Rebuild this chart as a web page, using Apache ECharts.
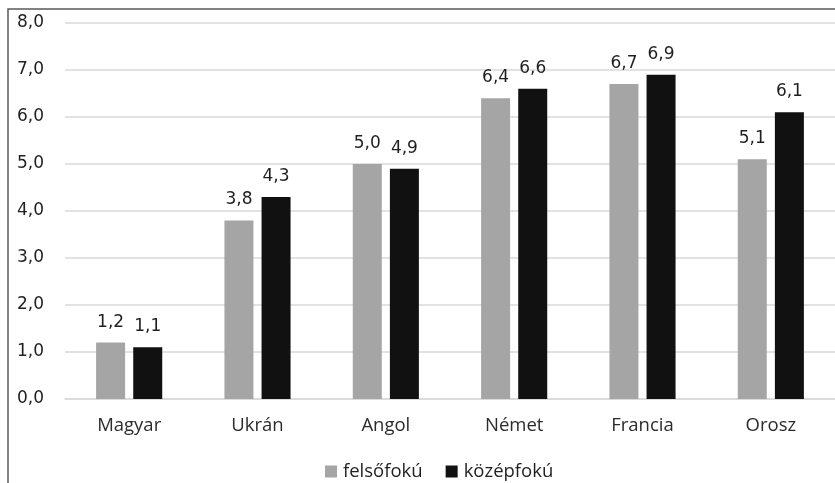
<!DOCTYPE html>
<html>
<head>
<meta charset="utf-8">
<script src="https://cdn.jsdelivr.net/npm/echarts@6/dist/echarts.min.js"></script>
<style>
  html, body { margin: 0; padding: 0; background: #fff; }
  #chart { width: 835px; height: 483px; }
</style>
</head>
<body>
<div id="chart"></div>
<script>
// Languages and the two education-level series
const categories = ['Magyar', 'Ukrán', 'Angol', 'Német', 'Francia', 'Orosz'];
const seriesNames = ['felsőfokú', 'középfokú'];
const felsofoku = [1.2, 3.8, 5.0, 6.4, 6.7, 5.1];
const kozepfoku = [1.1, 4.3, 4.9, 6.6, 6.9, 6.1];
const yTicks = { min: 0, max: 8, interval: 1 };

const fmt = v => Number(v).toFixed(1).replace('.', ',');
const numFont = 'DejaVu Sans';
const textFont = 'Open Sans';

const chart = echarts.init(document.getElementById('chart'), null, { renderer: 'canvas' });

const barLabel = {
  show: true,
  position: 'top',
  distance: 12,
  fontFamily: numFont,
  fontSize: 17,
  color: '#1f1f1f',
  formatter: p => fmt(p.value)
};

chart.setOption({
  animation: false,
  backgroundColor: '#ffffff',
  graphic: [{
    type: 'rect',
    silent: true,
    shape: { x: 8, y: 9, width: 1000, height: 1000 },
    style: { fill: 'none', stroke: '#595959', lineWidth: 1.5 }
  }],
  grid: { left: 65, top: 23, width: 775, bottom: 84, containLabel: false },
  legend: {
    data: seriesNames,
    left: 320,
    top: 457,
    itemWidth: 12,
    itemHeight: 12,
    itemGap: 23,
    icon: 'rect',
    textStyle: { fontFamily: textFont, fontSize: 18.5, color: '#1f1f1f', padding: [0, 0, 0, 1] }
  },
  xAxis: {
    type: 'category',
    data: categories,
    axisLine: { show: true, lineStyle: { color: '#d9d9d9', width: 1.5 } },
    axisTick: { show: false },
    axisLabel: { margin: 17, fontFamily: textFont, fontSize: 18.5, color: '#2b2b2b' }
  },
  yAxis: {
    type: 'value',
    min: yTicks.min,
    max: yTicks.max,
    interval: yTicks.interval,
    axisLine: { show: false },
    axisTick: { show: false },
    splitLine: { lineStyle: { color: '#d9d9d9', width: 1.5 } },
    axisLabel: {
      margin: 21,
      fontFamily: numFont,
      fontSize: 17,
      color: '#1f1f1f',
      formatter: fmt
    }
  },
  series: [
    {
      name: seriesNames[0],
      type: 'bar',
      data: felsofoku,
      barWidth: 29,
      barGap: '28%',
      itemStyle: { color: '#a5a5a5' },
      label: barLabel
    },
    {
      name: seriesNames[1],
      type: 'bar',
      data: kozepfoku,
      barWidth: 29,
      barGap: '28%',
      itemStyle: { color: '#111111' },
      label: barLabel
    }
  ]
});
</script>
</body>
</html>
